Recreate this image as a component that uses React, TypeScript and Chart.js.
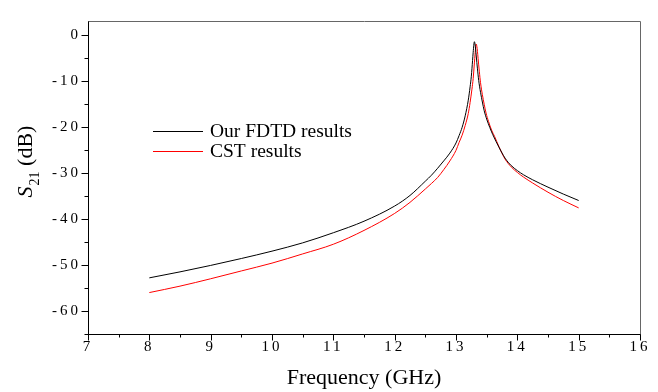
import { useEffect, useRef } from 'react';
import { Chart, registerables } from 'chart.js';

Chart.register(...registerables);

const seriesLabels = ['Our FDTD results', 'CST results'];
const seriesColors = ['#000000', '#ff0000'];

const fdtdFreq = [8, 8.5, 9, 9.5, 10, 10.5, 11, 11.5, 12, 12.25, 12.5, 12.6, 12.7, 12.8, 12.9, 13, 13.05, 13.1, 13.15, 13.2, 13.23, 13.25, 13.27, 13.28, 13.3, 13.31, 13.32, 13.33, 13.35, 13.37, 13.4, 13.43, 13.46, 13.5, 13.55, 13.6, 13.7, 13.8, 13.9, 14, 14.1, 14.25, 14.5, 14.75, 15];
const fdtdDb = [-52.8, -51.5, -50.1, -48.6, -47.0, -45.2, -43.0, -40.5, -37.2, -34.9, -31.8, -30.5, -29.0, -27.4, -25.7, -23.5, -21.9, -20.1, -17.6, -14.2, -11.3, -9.0, -5.6, -3.8, -1.5, -2.0, -3.1, -4.6, -7.4, -9.9, -12.5, -14.6, -16.5, -18.3, -20.1, -21.7, -24.4, -26.8, -28.4, -29.5, -30.4, -31.5, -33.1, -34.6, -36.0];

const cstFreq = [8, 8.5, 9, 9.5, 10, 10.5, 11, 11.5, 12, 12.25, 12.5, 12.6, 12.7, 12.8, 12.9, 13, 13.05, 13.1, 13.15, 13.2, 13.23, 13.26, 13.28, 13.3, 13.31, 13.33, 13.34, 13.35, 13.36, 13.38, 13.4, 13.43, 13.46, 13.49, 13.53, 13.58, 13.63, 13.7, 13.8, 13.9, 14, 14.1, 14.25, 14.5, 14.75, 15];
const cstDb = [-56.0, -54.6, -53.0, -51.3, -49.6, -47.6, -45.5, -42.5, -38.8, -36.4, -33.5, -32.3, -31.0, -29.3, -27.4, -25.1, -23.4, -21.8, -19.7, -17.1, -14.7, -11.8, -9.5, -6.1, -4.3, -2.0, -2.5, -3.6, -5.1, -7.9, -10.4, -13.0, -15.1, -17.0, -18.8, -20.7, -22.1, -24.3, -27.0, -28.7, -29.9, -30.9, -32.2, -34.2, -36.0, -37.6];

const xMajorTicks = [7, 8, 9, 10, 11, 12, 13, 14, 15, 16];
const xMinorTicks = [7.5, 8.5, 9.5, 10.5, 11.5, 12.5, 13.5, 14.5, 15.5];
const yMajorTicks = [-60, -50, -40, -30, -20, -10, 0];
const yMinorTicks = [-65, -55, -45, -35, -25, -15, -5];

const xTitle = 'Frequency (GHz)';
const yTitleMain = 'S';
const yTitleSub = '21';
const yTitleRest = ' (dB)';

const SERIF = '"Liberation Serif", "Times New Roman", serif';

const customPlugin = {
  id: 'customDecor',
  beforeDraw(chart: any) {
    (chart.ctx as any).letterSpacing = '3px';
  },
  afterDraw(chart: any) {
    const ctx = chart.ctx as any;
    ctx.letterSpacing = '0px';
    const { left, right, top, bottom } = chart.chartArea;
    const xs = chart.scales.x;
    const ys = chart.scales.y;
    ctx.save();
    // frame top & right
    ctx.strokeStyle = '#666';
    ctx.lineWidth = 1;
    ctx.beginPath();
    ctx.moveTo(Math.round(left) + 0.5, Math.round(top) + 0.5);
    ctx.lineTo(Math.round(right) + 0.5, Math.round(top) + 0.5);
    ctx.lineTo(Math.round(right) + 0.5, Math.round(bottom) + 0.5);
    ctx.stroke();
    // ticks
    ctx.strokeStyle = '#000';
    ctx.beginPath();
    const bx = Math.round(left) + 0.5;
    const by = Math.round(bottom) + 0.5;
    yMajorTicks.forEach((v) => {
      const p = Math.round(ys.getPixelForValue(v)) + 0.5;
      ctx.moveTo(bx - 7, p);
      ctx.lineTo(bx, p);
    });
    yMinorTicks.forEach((v) => {
      const p = Math.round(ys.getPixelForValue(v)) + 0.5;
      ctx.moveTo(bx - 4, p);
      ctx.lineTo(bx, p);
    });
    xMajorTicks.forEach((v) => {
      const p = Math.round(xs.getPixelForValue(v)) + 0.5;
      ctx.moveTo(p, by);
      ctx.lineTo(p, by + 6);
    });
    xMinorTicks.forEach((v) => {
      const p = Math.round(xs.getPixelForValue(v)) + 0.5;
      ctx.moveTo(p, by);
      ctx.lineTo(p, by + 3);
    });
    ctx.stroke();

    // legend
    const legX = xs.getPixelForValue(8.06);
    const legRows = [131, 151];
    ctx.font = `19.5px ${SERIF}`;
    ctx.textBaseline = 'middle';
    ctx.textAlign = 'left';
    seriesLabels.forEach((lab, i) => {
      ctx.strokeStyle = seriesColors[i];
      ctx.lineWidth = 1;
      ctx.beginPath();
      ctx.moveTo(legX, legRows[i] + 0.5);
      ctx.lineTo(legX + 50, legRows[i] + 0.5);
      ctx.stroke();
      ctx.fillStyle = '#000';
      ctx.fillText(lab, legX + 57, legRows[i] + 1);
    });

    // x title
    ctx.font = `22px ${SERIF}`;
    ctx.textAlign = 'center';
    ctx.textBaseline = 'alphabetic';
    ctx.fillStyle = '#000';
    ctx.fillText(xTitle, (left + right) / 2, 384);

    // y title (rotated, with subscript)
    ctx.translate(31.5, 162);
    ctx.rotate(-Math.PI / 2);
    ctx.textAlign = 'left';
    const fMain = `italic 22px ${SERIF}`;
    const fSub = `14px ${SERIF}`;
    const fRest = `22px ${SERIF}`;
    ctx.font = fMain;
    const w1 = ctx.measureText(yTitleMain).width;
    ctx.font = fSub;
    const w2 = ctx.measureText(yTitleSub).width;
    ctx.font = fRest;
    const w3 = ctx.measureText(yTitleRest).width;
    let u = -(w1 + w2 + w3) / 2;
    ctx.font = fMain;
    ctx.fillText(yTitleMain, u, 0);
    u += w1 + 1;
    ctx.font = fSub;
    ctx.fillText(yTitleSub, u, 7);
    u += w2;
    ctx.font = fRest;
    ctx.fillText(yTitleRest, u, 0);
    ctx.restore();
  },
};

export default function App() {
  const ref = useRef<HTMLCanvasElement>(null);
  useEffect(() => {
    const canvas = ref.current!;
    const chart = new Chart(canvas, {
      type: 'line',
      data: {
        datasets: [
          {
            label: seriesLabels[0],
            data: fdtdFreq.map((f, i) => ({ x: f, y: fdtdDb[i] })),
            borderColor: seriesColors[0],
            borderWidth: 1,
            pointRadius: 0,
            cubicInterpolationMode: 'monotone',
            fill: false,
          },
          {
            label: seriesLabels[1],
            data: cstFreq.map((f, i) => ({ x: f, y: cstDb[i] })),
            borderColor: seriesColors[1],
            borderWidth: 1,
            pointRadius: 0,
            cubicInterpolationMode: 'monotone',
            fill: false,
          },
        ],
      },
      options: {
        animation: false,
        responsive: false,
        devicePixelRatio: 1,
        layout: { padding: { top: 21, right: 18, left: 0, bottom: 0 } },
        plugins: {
          legend: { display: false },
          tooltip: { enabled: false },
          title: { display: false },
        },
        scales: {
          x: {
            type: 'linear',
            min: 7,
            max: 16,
            afterBuildTicks: (s: any) => {
              s.ticks = xMajorTicks.map((v) => ({ value: v }));
            },
            afterFit: (s: any) => {
              s.height = 58;
              s.paddingLeft = 0;
              s.paddingRight = 0;
              s.paddingTop = 0;
              s.paddingBottom = 0;
            },
            ticks: {
              color: '#000',
              font: { family: SERIF, size: 15 },
              padding: 4,
              maxRotation: 0,
              autoSkip: false,
            },
            grid: { display: false, drawTicks: false },
            border: { display: true, color: '#000', width: 1 },
            title: { display: false },
          },
          y: {
            type: 'linear',
            min: -65,
            max: 3,
            afterBuildTicks: (s: any) => {
              s.ticks = yMajorTicks.map((v) => ({ value: v }));
            },
            afterFit: (s: any) => {
              s.width = 88;
              s.paddingLeft = 0;
              s.paddingRight = 0;
              s.paddingTop = 0;
              s.paddingBottom = 0;
            },
            ticks: {
              color: '#000',
              font: { family: SERIF, size: 15 },
              padding: 7,
              autoSkip: false,
            },
            grid: { display: false, drawTicks: false },
            border: { display: true, color: '#000', width: 1 },
            title: { display: false },
          },
        },
      },
      plugins: [customPlugin],
    } as any);
    return () => chart.destroy();
  }, []);
  return (
    <div style={{ position: 'fixed', left: 0, top: 0, width: 658, height: 392, background: '#fff' }}>
      <canvas ref={ref} width={658} height={392} style={{ width: 658, height: 392 }} />
    </div>
  );
}
